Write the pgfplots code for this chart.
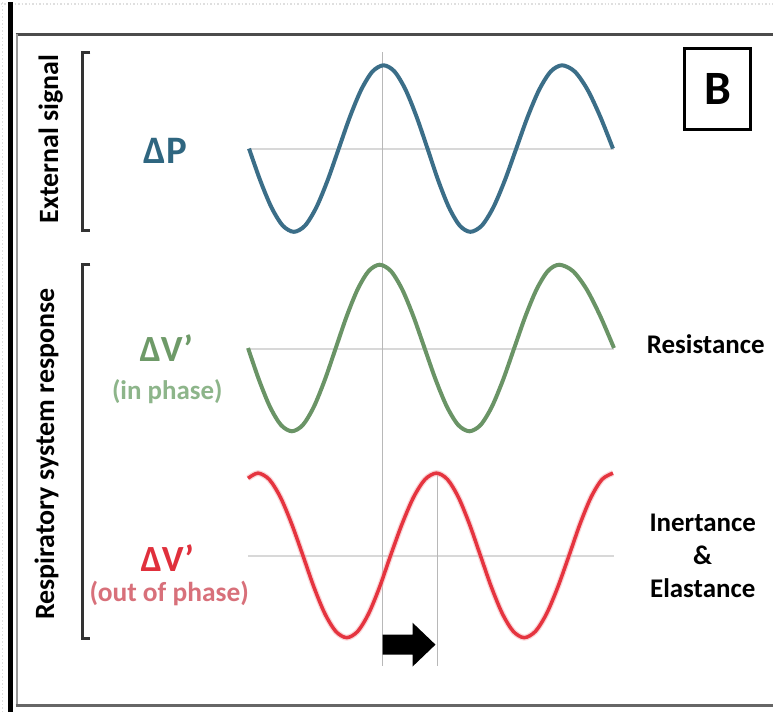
\documentclass[border=0pt]{standalone}
\usepackage{fontspec}
\setmainfont{Carlito}
\usepackage{pgfplots}
\pgfplotsset{compat=1.18}
\definecolor{bluel}{HTML}{3B6E88}
\definecolor{bluet}{HTML}{2F6680}
\definecolor{greenl}{HTML}{6A9466}
\definecolor{greent}{HTML}{6E9A68}
\definecolor{greens}{HTML}{8DB58A}
\definecolor{redl}{HTML}{E5343F}
\definecolor{redt}{HTML}{E0303C}
\definecolor{reds}{HTML}{D8707A}
\definecolor{zero}{HTML}{D8D8D8}
\definecolor{vert}{HTML}{B8B8B8}
\begin{document}
\begin{tikzpicture}
\begin{axis}[scale only axis, width=774pt, height=712pt,
  xmin=0, xmax=774, ymin=0, ymax=712, y dir=reverse,
  hide axis, clip=false]
\addplot[draw=none, fill=white] coordinates {(0,0) (774,0) (774,712) (0,712)} --cycle;
% screenshot dotted edges
\addplot[gray!25, dotted, line width=1.5pt] coordinates {(0,1.5) (774,1.5)};
\addplot[gray!25, dotted, line width=1.5pt] coordinates {(2,0) (2,712)};
% frame
\addplot[black, line width=5pt] coordinates {(9.5,0) (9.5,712)};
\addplot[black!70, line width=3pt] coordinates {(15,32.5) (774,32.5)};
\addplot[black!40, line width=2pt] coordinates {(16,32) (16,705)};
\addplot[black!60, line width=3pt] coordinates {(15,705.5) (774,705.5)};
% zero lines
\addplot[zero, line width=2pt] coordinates {(250,147) (615,147)};
\addplot[zero, line width=2pt] coordinates {(248,348) (615,348)};
\addplot[zero, line width=2pt] coordinates {(248,555) (615,555)};
% vertical reference lines
\addplot[vert, line width=1.5pt] coordinates {(383,50) (383,665)};
\addplot[vert, line width=1.5pt] coordinates {(438,472) (438,665)};
% brackets
\addplot[black!80, line width=3pt] coordinates {(90,50) (82,50) (82,229) (90,229)};
\addplot[black!80, line width=3pt] coordinates {(90,263) (82,263) (82,638) (90,638)};
% Delta P
\addplot[bluel, line width=4pt, smooth] coordinates {
(249,146.5) (260.25,178.5) (271.5,205.5) (282.75,223.7) (294,230)
(305.25,223.7) (316.5,205.5) (327.75,178.5) (339,146.5)
(350.25,114.5) (361.5,87.5) (372.75,69.3) (384,63)
(395,69.3) (406,87.5) (417,114.5) (428,146.5)
(438.75,178.5) (449.5,205.5) (460.25,223.7) (471,230)
(482.5,223.7) (494,205.5) (505.5,178.5) (517,146.5)
(528.5,114.5) (540,87.5) (551.5,69.3) (563,63)
(575.75,69.3) (588.5,87.5) (601.25,114.5) (614,146.5)};
% Delta V' in phase
\addplot[greenl, line width=4pt, smooth] coordinates {
(248,346.5) (259,378.5) (270,405.5) (281,423.7) (292,430)
(303,423.7) (314,405.5) (325,378.5) (336,346.5)
(347,314.5) (358,287.5) (369,269.3) (380,263)
(391.25,269.3) (402.5,287.5) (413.75,314.5) (425,346.5)
(436.25,378.5) (447.5,405.5) (458.75,423.7) (470,430)
(481.25,423.7) (492.5,405.5) (503.75,378.5) (515,346.5)
(526.25,314.5) (537.5,287.5) (548.75,269.3) (560,263)
(573.75,269.3) (587.5,287.5) (601.25,314.5) (615,346.5)};
% Delta V' out of phase
\addplot[redl!40, line width=6pt, smooth, opacity=0.5] coordinates {
(248,477.2) (258,472)
(269.25,478.3) (280.5,496.2) (291.75,522.9) (303,554.5)
(314,586.1) (325,612.8) (336,630.7) (347,637)
(358,630.7) (369,612.8) (380,586.1) (391,554.5)
(402.5,522.9) (414,496.2) (425.5,478.3) (437,472)
(448,478.3) (459,496.2) (470,522.9) (481,554.5)
(492,586.1) (503,612.8) (514,630.7) (525,637)
(536.25,630.7) (547.5,612.8) (558.75,586.1) (570,554.5)
(581,522.9) (592,496.2) (603,478.3) (614,472)};
\addplot[redl, line width=3.5pt, smooth] coordinates {
(248,477.2) (258,472)
(269.25,478.3) (280.5,496.2) (291.75,522.9) (303,554.5)
(314,586.1) (325,612.8) (336,630.7) (347,637)
(358,630.7) (369,612.8) (380,586.1) (391,554.5)
(402.5,522.9) (414,496.2) (425.5,478.3) (437,472)
(448,478.3) (459,496.2) (470,522.9) (481,554.5)
(492,586.1) (503,612.8) (514,630.7) (525,637)
(536.25,630.7) (547.5,612.8) (558.75,586.1) (570,554.5)
(581,522.9) (592,496.2) (603,478.3) (614,472)};
% arrow
\addplot[fill=black, draw=none] coordinates {(383,634) (413,634) (413,622) (436,644) (413,666) (413,654) (383,654)} --cycle;
% B box
\addplot[black, line width=3pt] coordinates {(686,46) (752,46) (752,127) (686,127)} --cycle;
\node[font=\fontsize{48}{50}\selectfont\bfseries] at (axis cs:719,86.5) {B};
% labels
\node[rotate=90, font=\fontsize{28}{30}\selectfont\bfseries] at (axis cs:50,137) {External signal};
\node[rotate=90, font=\fontsize{28}{30}\selectfont\bfseries] at (axis cs:46,453) {Respiratory system response};
\node[text=bluet, font=\fontsize{39}{40}\selectfont\bfseries] at (axis cs:165,149) {ΔP};
\node[text=greent, font=\fontsize{37}{40}\selectfont\bfseries] at (axis cs:166,347) {ΔV’};
\node[text=greens, font=\fontsize{27}{30}\selectfont\bfseries] at (axis cs:167,390) {(in phase)};
\node[text=redt, font=\fontsize{37}{40}\selectfont\bfseries] at (axis cs:167,557) {ΔV’};
\node[text=reds, font=\fontsize{27.5}{30}\selectfont\bfseries] at (axis cs:169,593) {(out of phase)};
\node[font=\fontsize{27}{30}\selectfont\bfseries] at (axis cs:707,343) {Resistance};
\node[align=center, font=\fontsize{27}{33}\selectfont\bfseries] at (axis cs:704,555) {Inertance\\\&\\Elastance};
\end{axis}
\end{tikzpicture}
\end{document}
